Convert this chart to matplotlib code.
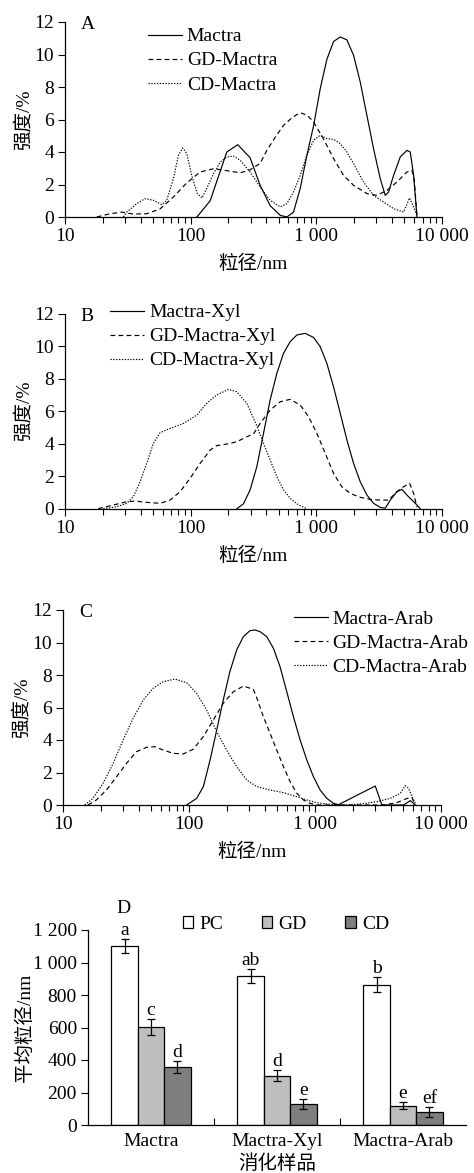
import matplotlib
matplotlib.use("Agg")
import matplotlib.pyplot as plt
from matplotlib.patches import Patch
from matplotlib.ticker import FixedLocator, NullFormatter
import numpy as np

plt.rcParams['font.family'] = ['Liberation Serif', 'Noto Sans CJK SC']
plt.rcParams['font.size'] = 14
plt.rcParams['axes.linewidth'] = 0.9

# ---------------- Panel A ----------------
a_mactra_x = [112, 115, 143, 171, 194, 237, 297, 357, 429, 516, 583, 658, 744, 841, 950,
              1074, 1213, 1371, 1550, 1751, 1978, 2236, 2526, 2854, 3225, 3535, 3758, 4119,
              4655, 5260, 5592, 5944, 6319]
a_mactra_y = [0, 0.1, 1.0, 2.77, 4.0, 4.45, 3.65, 1.95, 0.7, 0.1, 0, 0.3, 1.75, 3.8, 5.6,
              7.9, 9.7, 10.8, 11.08, 10.9, 9.95, 8.3, 6.25, 4.2, 2.36, 1.33, 1.54, 2.56,
              3.7, 4.1, 4.0, 2.56, 0]
a_gd_x = [17.9, 22.8, 28.3, 35, 44.7, 57.1, 72.9, 93.1, 119, 152, 194, 248, 297, 357, 404,
          470, 548, 650, 744, 850, 950, 1141, 1371, 1647, 1978, 2526, 3034, 3645, 4379, 5260,
          5766, 6000, 6319]
a_gd_y = [0, 0.2, 0.3, 0.18, 0.2, 0.5, 1.23, 2.1, 2.77, 2.97, 2.85, 2.72, 2.9, 3.3, 4.1,
          4.9, 5.64, 6.15, 6.42, 6.25, 5.85, 4.8, 3.6, 2.56, 1.95, 1.44, 1.33, 1.64, 2.15, 2.77,
          2.87, 2.4, 0.1]
a_cd_x = [29.1, 31.0, 37.2, 43.4, 50.5, 58.9, 64.5, 72.9, 79.9, 86.5, 93.1, 102, 113, 123, 134,
          152, 172, 194, 219, 248, 297, 357, 429, 516, 583, 658, 744, 841, 950, 1074,
          1213, 1371, 1550, 1751, 1978, 2376, 2854, 3429, 4119, 4948, 5524, 5944, 6319]
a_cd_y = [0, 0.3, 0.82, 1.13, 1.03, 0.76, 1.03, 2.36, 3.8, 4.25, 3.9, 2.56, 1.44, 1.17, 1.74,
          2.67, 3.38, 3.69, 3.75, 3.49, 2.77, 1.85, 1.03, 0.62, 0.82, 1.54, 2.56, 3.8, 4.72, 5.03,
          4.82, 4.78, 4.51, 4.0, 3.28, 2.15, 1.33, 0.92, 0.51, 0.31, 1.17, 0.62, 0.1]

# ---------------- Panel B ----------------
b_mactra_x = [233, 263, 297, 336, 380, 429, 485, 548, 619, 700, 815, 950, 1074, 1213, 1371,
              1550, 1751, 1978, 2236, 2526, 2854, 3225, 3535, 3875, 4379, 4800, 5260, 5766,
              6319, 6718]
b_mactra_y = [0, 0.3, 1.15, 2.58, 4.64, 6.69, 8.33, 9.56, 10.28, 10.69, 10.79, 10.54, 9.97,
              8.94, 7.5, 5.87, 4.23, 2.79, 1.66, 0.84, 0.33, 0.08, 0.03, 0.53, 1.05, 1.19,
              0.84, 0.53, 0.23, 0]
b_gd_x = [18.4, 24.3, 31.0, 36.1, 44.7, 57.1, 68.6, 82.4, 99.0, 119, 143, 161, 194, 233, 280,
          316, 357, 429, 516, 619, 744, 867, 1010, 1177, 1371, 1597, 1861, 2236, 2685, 3225,
          3758, 4379, 4948, 5524, 5944, 6319]
b_gd_y = [0, 0.23, 0.43, 0.47, 0.39, 0.33, 0.53, 1.05, 1.87, 2.79, 3.61, 3.88, 3.98, 4.12, 4.43,
          4.6, 5.25, 6.07, 6.58, 6.73, 6.38, 5.66, 4.64, 3.41, 2.17, 1.35, 0.94, 0.7, 0.57, 0.53,
          0.53, 1.05, 1.35, 1.56, 0.94, 0.1]
b_cd_x = [20.2, 25.8, 31.0, 35.0, 39.6, 44.7, 50.5, 57.1, 68.6, 87.6, 112, 134, 161, 200, 233,
          280, 336, 380, 429, 485, 548, 619, 722, 841]
b_cd_y = [0, 0.12, 0.33, 0.74, 1.66, 2.79, 4.02, 4.68, 4.94, 5.25, 5.76, 6.48, 7.0, 7.34, 7.2,
          6.48, 5.1, 4.02, 3.0, 1.97, 1.15, 0.64, 0.23, 0]

# ---------------- Panel C ----------------
c_mactra_x = [95.7, 115, 130, 147, 166, 187, 211, 239, 270, 305, 334, 366, 414, 468, 528,
              597, 674, 762, 861, 972, 1099, 1241, 1402, 1537, 3007, 3397, 5045, 5706, 6255]
c_mactra_y = [0, 0.41, 1.13, 2.77, 4.62, 6.46, 8.2, 9.54, 10.36, 10.73, 10.77, 10.67, 10.36,
              9.64, 8.51, 6.97, 5.44, 4.0, 2.77, 1.74, 0.92, 0.41, 0.1, 0.02, 1.17, 0, 0, 0.27, 0]
c_gd_x = [15.8, 18.4, 22.1, 26.6, 31.9, 38.3, 46.0, 53.6, 62.4, 74.9, 90.0, 108, 130, 156, 187,
          225, 270, 324, 345, 389, 440, 497, 562, 634, 717, 810, 915, 1033, 3503, 4472,
          5371, 5886, 6255]
c_gd_y = [0, 0.31, 0.92, 1.74, 2.56, 3.28, 3.55, 3.59, 3.38, 3.18, 3.14, 3.43, 4.21, 5.23, 6.26,
          6.97, 7.32, 7.12, 6.6, 5.44, 4.41, 3.38, 2.36, 1.44, 0.72, 0.31, 0.1, 0, 0, 0.15,
          0.4, 0.45, 0]
c_cd_x = [14.9, 17.3, 20.8, 25.0, 30.0, 36.0, 43.3, 51.9, 62.4, 77.3, 95.7, 115, 138, 166, 199,
          239, 287, 345, 440, 562, 717, 861, 1033, 1319, 1684, 2285, 3100, 3958, 4753, 5210,
          5537, 5886, 6255]
c_cd_y = [0, 0.41, 1.33, 2.56, 4.0, 5.33, 6.46, 7.18, 7.59, 7.75, 7.53, 6.87, 5.85, 4.51, 3.38,
          2.36, 1.54, 1.13, 0.92, 0.76, 0.51, 0.31, 0.14, 0.04, 0, 0.06, 0.2, 0.41, 0.72, 1.19,
          1.03, 0.51, 0.1]

# ---------------- Panel D ----------------
groups = ['Mactra', 'Mactra-Xyl', 'Mactra-Arab']
pc_vals = [1100, 917, 864]
pc_err = [42, 41, 45]
gd_vals = [602, 304, 119]
gd_err = [48, 32, 22]
cd_vals = [359, 127, 82]
cd_err = [37, 31, 31]
pc_letters = ['a', 'ab', 'b']
gd_letters = ['c', 'd', 'e']
cd_letters = ['d', 'e', 'ef']

x_ticks = [10, 100, 1000, 10000]
x_ticklabels = ['10', '100', '1 000', '10 000']
y_ticks = [0, 2, 4, 6, 8, 10, 12]
d_yticks = [0, 200, 400, 600, 800, 1000, 1200]
d_yticklabels = ['0', '200', '400', '600', '800', '1 000', '1 200']

W, H = 474, 1173
fig = plt.figure(figsize=(W / 100, H / 100), dpi=100)

def rect(left, top, right, bottom):
    return [left / W, 1 - bottom / H, (right - left) / W, (bottom - top) / H]

SOLID = dict(color='black', lw=0.85, linestyle='-')
DASH = dict(color='black', lw=0.85, linestyle=(0, (4.0, 2.8)))
DOT = dict(color='black', lw=0.85, linestyle=(0, (1.1, 1.3)))

def dist_axes(r, series, labels, tag, leg_anchor):
    ax = fig.add_axes(r)
    for (xs, ys), st, lab in zip(series, [SOLID, DASH, DOT], labels):
        ax.plot(xs, ys, label=lab, **st)
    ax.set_xscale('log')
    ax.set_xlim(10, 10000)
    ax.set_ylim(0, 12)
    ax.spines['top'].set_visible(False)
    ax.spines['right'].set_visible(False)
    ax.xaxis.set_major_locator(FixedLocator(x_ticks))
    ax.set_xticklabels(x_ticklabels)
    minors = [m * d for d in [10, 100, 1000] for m in range(2, 10)]
    ax.xaxis.set_minor_locator(FixedLocator(minors))
    ax.xaxis.set_minor_formatter(NullFormatter())
    ax.set_yticks(y_ticks)
    ax.tick_params(axis='both', which='major', direction='out', length=5, width=0.8, pad=3)
    ax.tick_params(axis='x', which='minor', direction='out', length=4.5, width=0.8)
    ax.set_xlabel('粒径/nm', labelpad=7)
    ax.set_ylabel('强度/%', labelpad=1)
    ax.text(0.042, 0.985, tag, transform=ax.transAxes, ha='left', va='center')
    ax.legend(loc='upper left', bbox_to_anchor=leg_anchor, frameon=False,
              handlelength=1.75, handletextpad=0.25, labelspacing=0.33,
              borderaxespad=0, borderpad=0)
    return ax

dist_axes(rect(65, 22, 442, 217),
          [(a_mactra_x, a_mactra_y), (a_gd_x, a_gd_y), (a_cd_x, a_cd_y)],
          ['Mactra', 'GD-Mactra', 'CD-Mactra'], 'A', (0.22, 0.97))
dist_axes(rect(65, 313.7, 442, 508.7),
          [(b_mactra_x, b_mactra_y), (b_gd_x, b_gd_y), (b_cd_x, b_cd_y)],
          ['Mactra-Xyl', 'GD-Mactra-Xyl', 'CD-Mactra-Xyl'], 'B', (0.12, 1.051))
dist_axes(rect(63, 610, 441, 805),
          [(c_mactra_x, c_mactra_y), (c_gd_x, c_gd_y), (c_cd_x, c_cd_y)],
          ['Mactra-Arab', 'GD-Mactra-Arab', 'CD-Mactra-Arab'], 'C', (0.61, 1.0))

# ---- bar chart ----
axd = fig.add_axes(rect(88, 930, 466, 1125))
xpos = np.arange(len(groups))
bw = 0.21
colors = ['white', '#bebebf', '#7e7e80']
sets = [(pc_vals, pc_err, pc_letters), (gd_vals, gd_err, gd_letters), (cd_vals, cd_err, cd_letters)]
for i, ((vals, errs, lets), c) in enumerate(zip(sets, colors)):
    xs = xpos + (i - 1) * bw
    axd.bar(xs, vals, width=bw, color=c, edgecolor='black', linewidth=0.9, zorder=2)
    axd.errorbar(xs, vals, yerr=errs, fmt='none', ecolor='black', elinewidth=0.9,
                 capsize=3.2, capthick=0.9, zorder=3)
    for x, v, e, l in zip(xs, vals, errs, lets):
        axd.text(x, v + e + 25, l, ha='center', va='baseline')
axd.set_xlim(-0.5, 2.5)
axd.set_ylim(0, 1200)
axd.spines['top'].set_visible(False)
axd.spines['right'].set_visible(False)
axd.set_xticks(xpos)
axd.set_xticklabels(groups)
axd.set_xticks([0.5, 1.5], minor=True)
axd.tick_params(axis='x', which='major', length=0, pad=6)
axd.tick_params(axis='x', which='minor', direction='in', length=5, width=0.8)
axd.set_yticks(d_yticks)
axd.set_yticklabels(d_yticklabels)
axd.tick_params(axis='y', direction='out', length=5, width=0.8, pad=3)
axd.set_ylabel('平均粒径/nm', labelpad=-1)
axd.set_xlabel('消化样品', labelpad=3)
axd.text(0.093, 1.11, 'D', transform=axd.transAxes, ha='center', va='center')
handles = [Patch(facecolor=c, edgecolor='black', linewidth=0.9) for c in colors]
axd.legend(handles, ['PC', 'GD', 'CD'], loc='center left', bbox_to_anchor=(0.25, 1.03),
           ncol=3, frameon=False, handlelength=0.55, handleheight=0.55, handletextpad=0.3,
           columnspacing=2.0, borderaxespad=0, borderpad=0)

fig.savefig('out.png', dpi=100)
